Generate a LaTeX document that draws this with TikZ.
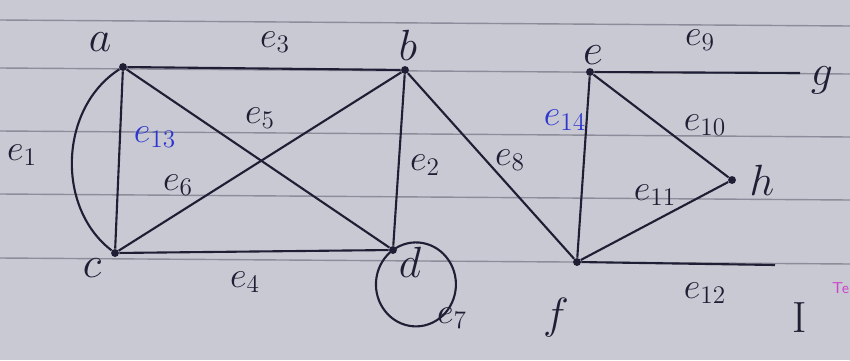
\documentclass[tikz,border=0pt]{standalone}
\usepackage{tikz}
\definecolor{paper}{RGB}{201,201,212}
\definecolor{rule}{RGB}{140,140,155}
\definecolor{ink}{RGB}{30,30,52}
\definecolor{pen}{RGB}{45,55,205}
\definecolor{mark}{RGB}{205,70,200}
\tikzset{
  vtx/.style={circle, fill=ink, inner sep=0pt, minimum size=4.5pt},
  edge/.style={draw=ink, line width=1.2pt},
  vlab/.style={text=ink, font=\Huge},
  elab/.style={text=ink, font=\huge},
  blab/.style={text=pen, font=\huge},
}
\begin{document}
\begin{tikzpicture}[x=0.02cm, y=0.02cm]
\fill[paper] (0,0) rectangle (850,360);
\useasboundingbox (0,0) rectangle (850,360);
% ruled lines of the sheet
\foreach \yy in {340,292,229,166,102}
  \draw[rule, line width=0.8pt] (0,\yy) -- (850,\yy-6);

\node[vtx] (a) at (123,293) {};
\node[vtx] (b) at (405,290) {};
\node[vtx] (c) at (115,107) {};
\node[vtx] (d) at (393,110) {};
\node[vtx] (e) at (590,288) {};
\node[vtx] (h) at (732,180) {};
\node[vtx] (f) at (577,98) {};
\coordinate (g) at (800,287);
\coordinate (i) at (775,95);

\draw[edge] (a) to[bend right=55] (c);
\draw[edge] (a) -- (b);
\draw[edge] (a) -- (c);
\draw[edge] (a) -- (d);
\draw[edge] (c) -- (b);
\draw[edge] (b) -- (d);
\draw[edge] (c) -- (d);
\draw[edge] (d) arc[start angle=125, end angle=485, x radius=0.8cm, y radius=0.84cm];
\draw[edge] (b) -- (f);
\draw[edge] (e) -- (f);
\draw[edge] (e) -- (g);
\draw[edge] (e) -- (h);
\draw[edge] (f) -- (h);
\draw[edge] (f) -- (i);

\node[vlab] at (100,318) {$a$};
\node[vlab] at (408,315) {$b$};
\node[vlab] at (92,92) {$c$};
\node[vlab] at (410,98) {$d$};
\node[vlab] at (593,305) {$e$};
\node[vlab] at (822,280) {$g$};
\node[vlab] at (762,180) {$h$};
\node[vlab] at (556,42) {$f$};
\node[vlab] at (800,42) {I};

\node[elab] at (22,205) {$e_1$};
\node[elab] at (425,195) {$e_2$};
\node[elab] at (275,318) {$e_3$};
\node[elab] at (245,78) {$e_4$};
\node[elab] at (260,242) {$e_5$};
\node[elab] at (178,175) {$e_6$};
\node[elab] at (452,42) {$e_7$};
\node[elab] at (510,200) {$e_8$};
\node[elab] at (700,320) {$e_9$};
\node[elab] at (705,235) {$e_{10}$};
\node[elab] at (655,165) {$e_{11}$};
\node[elab] at (705,67) {$e_{12}$};
\node[blab] at (155,223) {$e_{13}$};
\node[blab] at (565,240) {$e_{14}$};
\node[text=mark, font=\small\sffamily, anchor=west] at (826,72) {Te};
\end{tikzpicture}
\end{document}
